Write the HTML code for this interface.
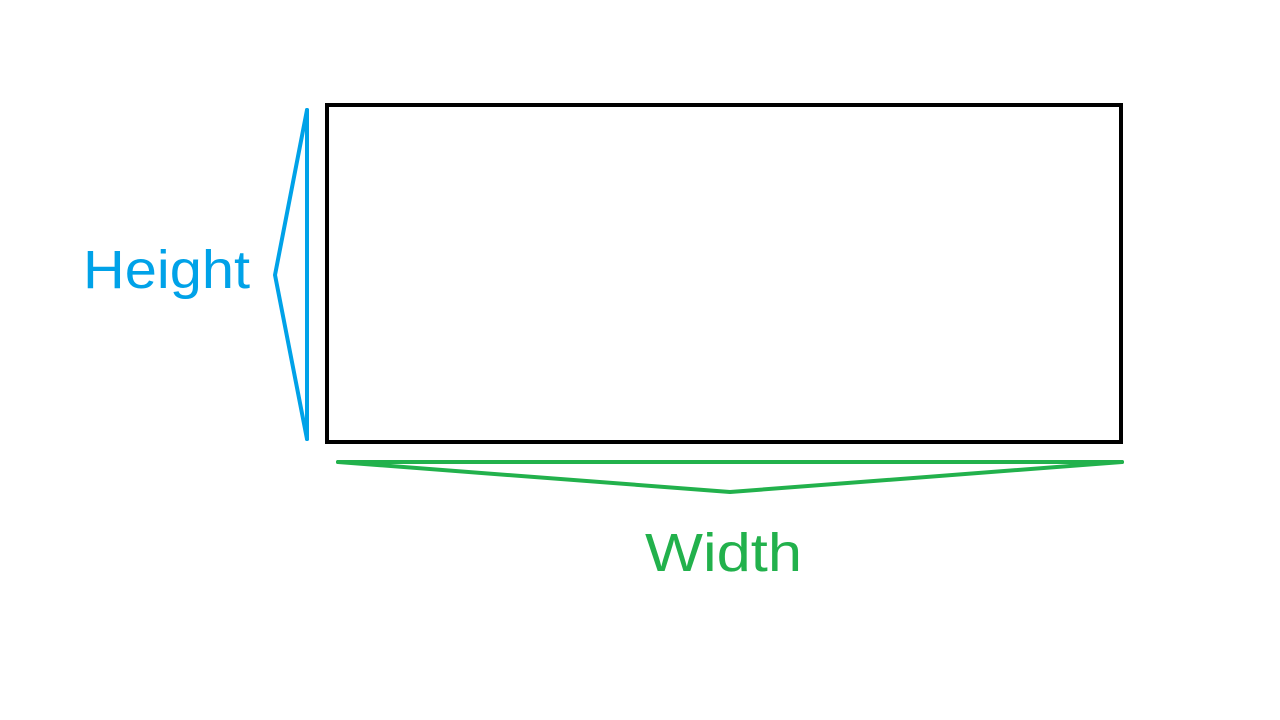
<!DOCTYPE html>
<html>
<head>
<meta charset="utf-8">
<style>
html,body{margin:0;padding:0;background:#fff;width:1280px;height:720px;overflow:hidden;}
svg{display:block;}
</style>
</head>
<body>
<svg width="1280" height="720" viewBox="0 0 1280 720">
  <rect x="327" y="105" width="794" height="337" fill="none" stroke="#000" stroke-width="4"/>
  <g stroke="#00a2e8" stroke-width="4" fill="none" stroke-linejoin="round" stroke-linecap="round">
    <line x1="307" y1="110" x2="307" y2="439"/>
    <polyline points="307,110 275,275 307,439"/>
  </g>
  <g stroke="#22b14c" stroke-width="4" fill="none" stroke-linejoin="round" stroke-linecap="round">
    <line x1="338" y1="462" x2="1122" y2="462"/>
    <polyline points="338,462 730,492 1122,462"/>
  </g>
  <text x="83" y="288" font-family="Liberation Sans, sans-serif" font-size="54" fill="#00a2e8" textLength="167" lengthAdjust="spacingAndGlyphs">Height</text>
  <text x="645" y="571" font-family="Liberation Sans, sans-serif" font-size="54" fill="#22b14c" textLength="157" lengthAdjust="spacingAndGlyphs">Width</text>
</svg>
</body>
</html>
